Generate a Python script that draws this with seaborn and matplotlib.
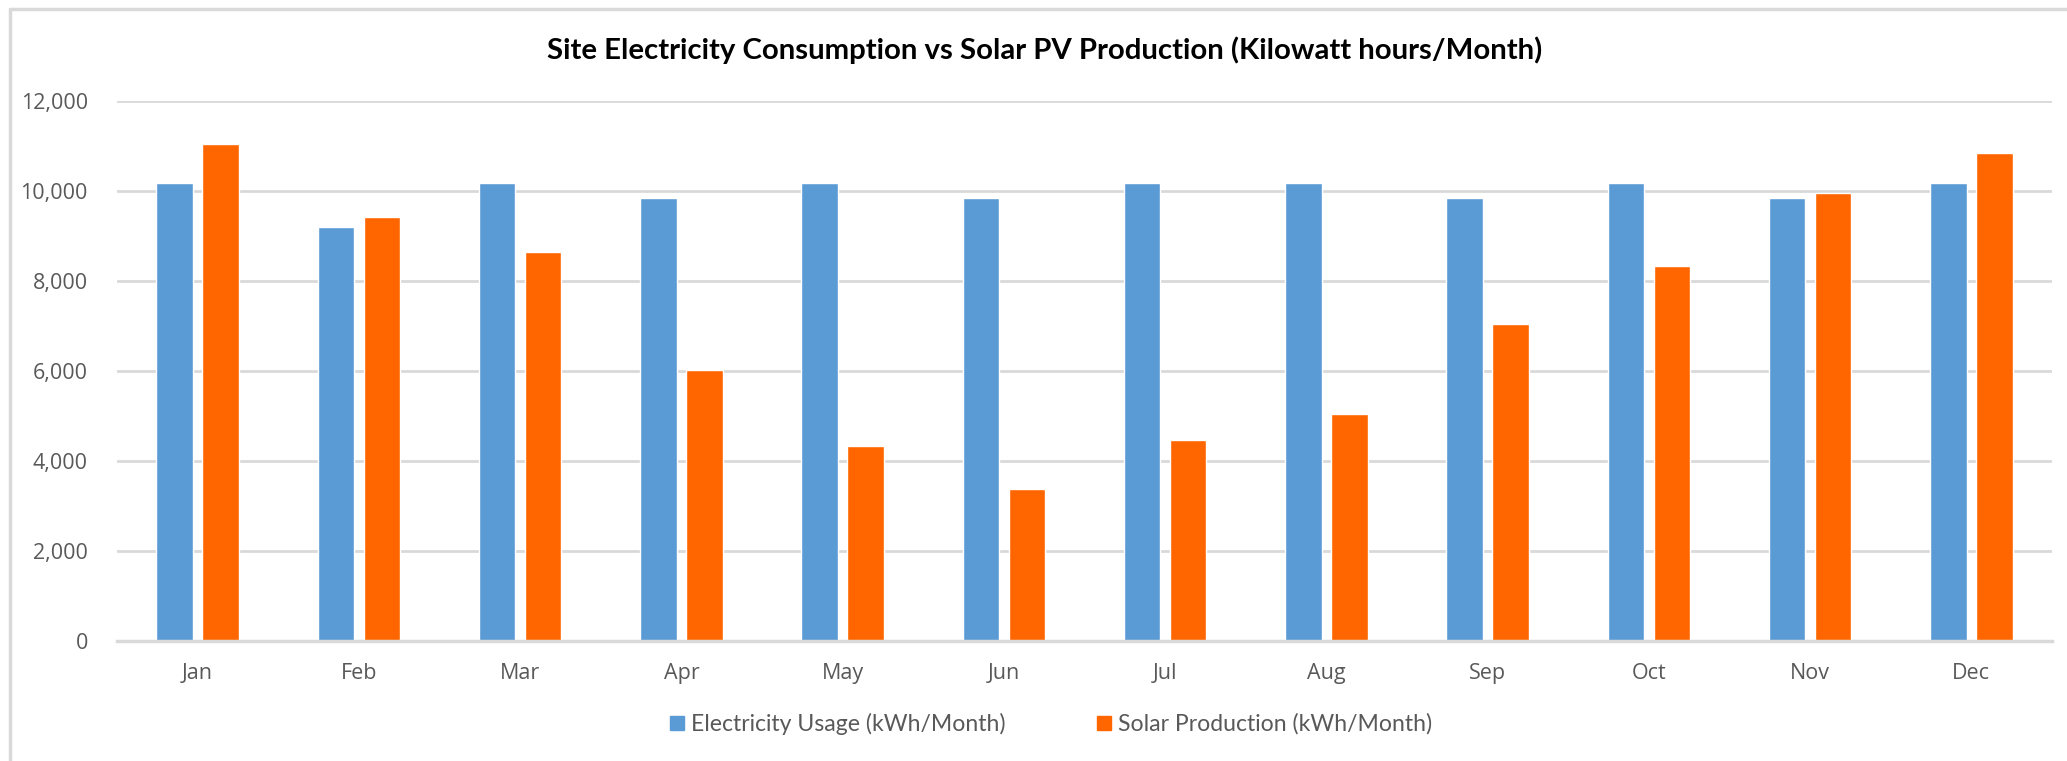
import matplotlib
matplotlib.use("Agg")
import matplotlib.pyplot as plt
from matplotlib.lines import Line2D
from matplotlib.ticker import FuncFormatter
import seaborn as sns
import pandas as pd

months = ["Jan", "Feb", "Mar", "Apr", "May", "Jun", "Jul", "Aug", "Sep", "Oct", "Nov", "Dec"]
usage = [10180, 9200, 10180, 9850, 10180, 9850, 10180, 10180, 9850, 10180, 9850, 10180]
solar = [11045, 9420, 8645, 6020, 4330, 3370, 4470, 5045, 7050, 8340, 9955, 10835]
series_names = ["Electricity Usage (kWh/Month)", "Solar Production (kWh/Month)"]
title = "Site Electricity Consumption vs Solar PV Production (Kilowatt hours/Month)"
yticks = [0, 2000, 4000, 6000, 8000, 10000, 12000]

colors = ["#5B9BD5", "#FF6600"]
text_color = "#595959"
grid_color = "#D9D9D9"

df = pd.DataFrame({
    "Month": months * 2,
    "Value": usage + solar,
    "Series": [series_names[0]] * len(months) + [series_names[1]] * len(months),
})

sns.set_theme(style="white")
plt.rcParams["font.family"] = ["Open Sans", "DejaVu Sans"]

W, H = 2067, 761
fig = plt.figure(figsize=(W / 100, H / 100), dpi=100)
ax = fig.add_axes([117 / W, 1 - 641 / H, (2052 - 117) / W, (641 - 101) / H])

sns.barplot(data=df, x="Month", y="Value", hue="Series", palette=colors,
            width=0.57, gap=0.21, ax=ax, legend=False, saturation=1)

ax.set_ylim(0, 12000)
ax.set_xlim(-0.5, 11.5)
ax.set_yticks(yticks)
ax.yaxis.set_major_formatter(FuncFormatter(lambda v, p: f"{int(v):,}"))
ax.set_xlabel("")
ax.set_ylabel("")
ax.grid(axis="y", color=grid_color, linewidth=2)
ax.set_axisbelow(True)
for s in ["left", "right", "top"]:
    ax.spines[s].set_visible(False)
ax.spines["bottom"].set_color(grid_color)
ax.spines["bottom"].set_linewidth(2.5)
ax.tick_params(axis="both", length=0, colors=text_color, labelsize=15.5)
ax.tick_params(axis="y", pad=21)
ax.tick_params(axis="x", pad=16)

fig.text(1045 / W, 1 - 50 / H, title, ha="center", va="center",
         fontsize=21.2, fontweight="bold", color="black", family=["Lato", "DejaVu Sans"])

handles = [plt.Rectangle((0, 0), 1, 1, color=c) for c in colors]
fig.legend(handles, series_names, loc="center", bbox_to_anchor=(1051 / W, 1 - 724 / H),
           ncol=2, frameon=False, labelcolor=text_color,
           handlelength=0.6, handleheight=0.6, handletextpad=0.3, columnspacing=4.0,
           prop={"family": ["Lato", "DejaVu Sans"], "size": 16.6})

# outer chart border (top and left)
fig.add_artist(Line2D([10 / W, 1], [1 - 9 / H, 1 - 9 / H], color=grid_color, linewidth=2.5,
                      transform=fig.transFigure))
fig.add_artist(Line2D([10 / W, 10 / W], [0, 1 - 9 / H], color=grid_color, linewidth=2.5,
                      transform=fig.transFigure))

fig.savefig("out.png", dpi=100, facecolor="white")
